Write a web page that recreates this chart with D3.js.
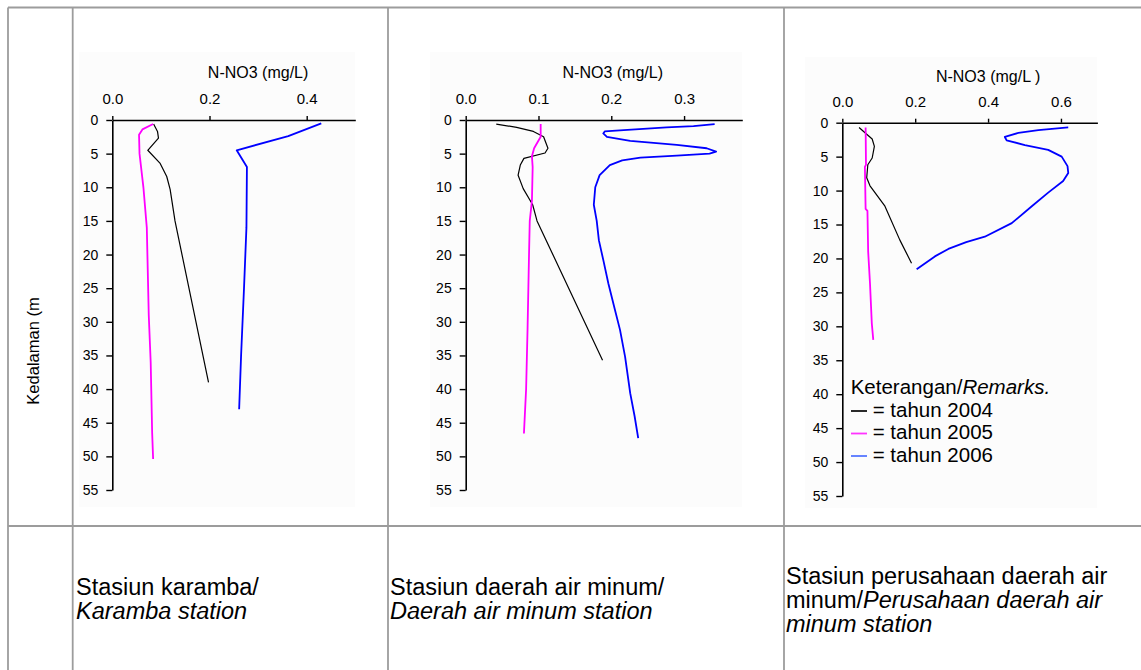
<!DOCTYPE html>
<html>
<head>
<meta charset="utf-8">
<script src="https://cdn.jsdelivr.net/npm/d3@7"></script>
<style>
  html, body { margin: 0; padding: 0; background: #ffffff; }
  svg { display: block; font-family: "Liberation Sans", Arial, sans-serif; }
</style>
</head>
<body>
<script>
// ---------------- DATA ----------------
const depthTicks = [0, 5, 10, 15, 20, 25, 30, 35, 40, 45, 50, 55];
const xTicksKaramba = [0, 0.2, 0.4];
const xTicksDaerah = [0, 0.1, 0.2, 0.3];
const xTicksPerusahaan = [0, 0.2, 0.4, 0.6];
const years = ["2004", "2005", "2006"];

// Stasiun karamba
const karamba2004Depth = [0.6, 1.7, 2.7, 4.5, 6.4, 8.4, 10.3, 15, 39];
const karamba2004NO3   = [0.085, 0.093, 0.095, 0.073, 0.098, 0.112, 0.119, 0.129, 0.198];
const karamba2005Depth = [0.6, 1.4, 2.2, 5, 10, 16, 29, 36, 46.5, 50.4];
const karamba2005NO3   = [0.084, 0.062, 0.055, 0.056, 0.064, 0.071, 0.075, 0.079, 0.082, 0.084];
const karamba2006Depth = [0.5, 2.4, 4.5, 7, 16, 25, 35, 43];
const karamba2006NO3   = [0.43, 0.362, 0.256, 0.277, 0.276, 0.271, 0.265, 0.261];

// Stasiun daerah air minum
const daerah2004Depth = [0.6, 1.1, 1.7, 2.5, 4.2, 4.9, 5.7, 6.7, 8.2, 10.2, 12.6, 15, 35.7];
const daerah2004NO3   = [0.042, 0.07, 0.093, 0.107, 0.113, 0.109, 0.08, 0.075, 0.072, 0.079, 0.092, 0.098, 0.188];
const daerah2005Depth = [0.6, 2.5, 4.2, 5.4, 7, 12, 15, 20, 31, 40, 46.6];
const daerah2005NO3   = [0.103, 0.103, 0.094, 0.091, 0.092, 0.091, 0.088, 0.087, 0.085, 0.083, 0.080];
const daerah2006Depth = [0.6, 0.9, 1.1, 1.5, 1.7, 2.0, 2.5, 3.1, 3.7, 4.2, 4.7, 5.0, 5.3, 5.6, 6.0, 6.7, 8.2, 10, 12.6, 15, 17.9, 20.8, 24.3, 28.2, 31.2, 35.2, 40.6, 44, 47.3];
const daerah2006NO3   = [0.342, 0.313, 0.276, 0.217, 0.191, 0.189, 0.194, 0.226, 0.29, 0.331, 0.344, 0.335, 0.29, 0.24, 0.215, 0.198, 0.184, 0.178, 0.176, 0.18, 0.183, 0.189, 0.196, 0.205, 0.212, 0.219, 0.226, 0.232, 0.237];

// Stasiun perusahaan daerah air minum
const perusahaan2004Depth = [0.7, 1.7, 2.4, 3.5, 5.2, 6.2, 8.1, 9.3, 12.3, 17.3, 20.7];
const perusahaan2004NO3   = [0.046, 0.067, 0.082, 0.088, 0.082, 0.07, 0.067, 0.076, 0.117, 0.158, 0.19];
const perusahaan2005Depth = [0.7, 6.2, 6.5, 12.7, 13, 19, 23.7, 29.6, 32];
const perusahaan2005NO3   = [0.064, 0.065, 0.062, 0.064, 0.069, 0.071, 0.076, 0.081, 0.085];
const perusahaan2006Depth = [0.7, 1.1, 1.5, 2.1, 2.6, 3.3, 4, 5, 6.4, 7.4, 8.6, 10.3, 12.3, 14.8, 16.8, 17.6, 18.6, 19.7, 21.6];
const perusahaan2006NO3   = [0.62, 0.538, 0.483, 0.446, 0.451, 0.501, 0.565, 0.602, 0.618, 0.62, 0.606, 0.565, 0.52, 0.465, 0.391, 0.34, 0.291, 0.254, 0.204];

const axisTitle = "N-NO3 (mg/L)";
const axisTitle3 = "N-NO3 (mg/L )";
const depthLabel = "Kedalaman (m";
const legendTitle = "Keterangan/";
const legendTitleItalic = "Remarks.";
const legendLabels = ["= tahun 2004", "= tahun 2005", "= tahun 2006"];

// ---------------- STYLE / LAYOUT ----------------
const W = 1141, H = 670;
const lineColors = {"2004": "#000000", "2005": "#ff00ff", "2006": "#0000ff"};
const lineWidths = {"2004": 1.2, "2005": 1.8, "2006": 1.8};
const legendColors = ["#111111", "#ff33ff", "#5577ff"];

const svg = d3.select("body").append("svg").attr("width", W).attr("height", H);
svg.append("rect").attr("width", W).attr("height", H).attr("fill", "#ffffff");

function zip(dep, val) { return dep.map((d, i) => ({d: d, v: val[i]})); }

const panels = [
  { xMax: 0.5, xRange: [112.3, 355.3], yRange: [120, 490], ticks: xTicksKaramba,
    title: axisTitle, titleAt: 0.30, titleY: 78, bg: [79, 52, 355, 507],
    series: [zip(karamba2004Depth, karamba2004NO3), zip(karamba2005Depth, karamba2005NO3), zip(karamba2006Depth, karamba2006NO3)] },
  { xMax: 0.38, xRange: [465.7, 742.3], yRange: [120, 490], ticks: xTicksDaerah,
    title: axisTitle, titleAt: 0.202, titleY: 78, bg: [430, 52, 742, 507],
    series: [zip(daerah2004Depth, daerah2004NO3), zip(daerah2005Depth, daerah2005NO3), zip(daerah2006Depth, daerah2006NO3)] },
  { xMax: 0.7, xRange: [842.3, 1097.4], yRange: [122.7, 496], ticks: xTicksPerusahaan,
    title: axisTitle3, titleAt: 0.40, titleY: 81.7, bg: [805, 57, 1097, 508],
    series: [zip(perusahaan2004Depth, perusahaan2004NO3), zip(perusahaan2005Depth, perusahaan2005NO3), zip(perusahaan2006Depth, perusahaan2006NO3)] }
];

// faint panel backgrounds
panels.forEach(p => {
  svg.append("rect").attr("x", p.bg[0]).attr("y", p.bg[1])
    .attr("width", p.bg[2] - p.bg[0]).attr("height", p.bg[3] - p.bg[1])
    .attr("fill", "#fcfcfc");
});

// table grid
const grid = svg.append("g").attr("stroke", "#9c9c9c").attr("stroke-width", 1.8).attr("fill", "none");
grid.append("line").attr("x1", 8).attr("x2", W).attr("y1", 7.5).attr("y2", 7.5);
grid.append("line").attr("x1", 8).attr("x2", W).attr("y1", 526).attr("y2", 526);
[8, 72.7, 388, 784].forEach(x => {
  grid.append("line").attr("x1", x).attr("x2", x).attr("y1", 7.5).attr("y2", H);
});

// depth label
svg.append("text")
  .attr("transform", "translate(39,351) rotate(-90)")
  .attr("text-anchor", "middle")
  .attr("font-size", 16.5)
  .attr("fill", "#000")
  .text(depthLabel);

panels.forEach(p => {
  const x = d3.scaleLinear().domain([0, p.xMax]).range(p.xRange);
  const y = d3.scaleLinear().domain([0, 55]).range(p.yRange);
  const g = svg.append("g");

  const xAxis = g.append("g").attr("transform", `translate(0,${p.yRange[0]})`)
    .call(d3.axisTop(x).tickValues(p.ticks).tickFormat(d3.format(".1f"))
      .tickSize(4).tickPadding(12).tickSizeOuter(0));
  const yAxis = g.append("g").attr("transform", `translate(${p.xRange[0]},0)`)
    .call(d3.axisLeft(y).tickValues(depthTicks).tickFormat(d3.format("d"))
      .tickSize(6).tickPadding(8).tickSizeOuter(0));

  [xAxis, yAxis].forEach(a => {
    a.select(".domain").attr("stroke", "#000").attr("stroke-width", 1.6);
    a.selectAll(".tick line").attr("stroke", "#000").attr("stroke-width", 1.4);
    a.selectAll(".tick text").attr("fill", "#000").attr("font-family", "Liberation Sans, Arial, sans-serif");
  });
  xAxis.selectAll(".tick text").attr("font-size", 15);
  yAxis.selectAll(".tick text").attr("font-size", 14);

  g.append("text").attr("x", x(p.titleAt)).attr("y", p.titleY)
    .attr("text-anchor", "middle").attr("font-size", 16).attr("fill", "#000")
    .text(p.title);

  const line = d3.line().x(d => x(d.v)).y(d => y(d.d));
  p.series.forEach((s, i) => {
    const yr = years[i];
    g.append("path").datum(s)
      .attr("d", line)
      .attr("fill", "none")
      .attr("stroke", lineColors[yr])
      .attr("stroke-width", lineWidths[yr])
      .attr("stroke-linejoin", "round");
  });
});

// legend (in third panel)
const lg = svg.append("g").attr("font-size", 20.5).attr("fill", "#000");
const lt = lg.append("text").attr("x", 850.7).attr("y", 394);
lt.append("tspan").text(legendTitle);
lt.append("tspan").attr("font-style", "italic").text(legendTitleItalic);
legendLabels.forEach((lab, i) => {
  const by = 416.5 + i * 22.5;
  lg.append("line").attr("x1", 851).attr("x2", 867).attr("y1", by - 5.5).attr("y2", by - 5.5)
    .attr("stroke", legendColors[i]).attr("stroke-width", 1.8);
  lg.append("text").attr("x", 872.7).attr("y", by).text(lab);
});

// bottom station labels
const labelFont = 23.5;
function label(x, lines) {
  lines.forEach(l => {
    const t = svg.append("text").attr("x", x).attr("y", l.y).attr("font-size", labelFont).attr("fill", "#000");
    l.parts.forEach(pt => {
      const ts = t.append("tspan").text(pt.t);
      if (pt.i) ts.attr("font-style", "italic");
    });
  });
}
label(76, [
  {y: 595, parts: [{t: "Stasiun karamba/"}]},
  {y: 619, parts: [{t: "Karamba station", i: true}]}
]);
label(390, [
  {y: 595, parts: [{t: "Stasiun daerah air minum/"}]},
  {y: 619, parts: [{t: "Daerah air minum station", i: true}]}
]);
label(786, [
  {y: 584, parts: [{t: "Stasiun perusahaan daerah air"}]},
  {y: 608, parts: [{t: "minum/"}, {t: "Perusahaan daerah air", i: true}]},
  {y: 632, parts: [{t: "minum station", i: true}]}
]);
</script>
</body>
</html>
